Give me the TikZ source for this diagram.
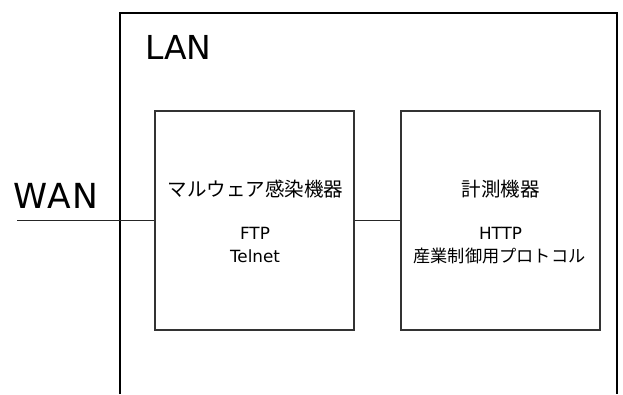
\documentclass[tikz,border=0pt]{standalone}
\usepackage{fontspec}
\setmainfont{DejaVu Sans}
\newfontfamily\cjk{Noto Sans CJK JP}
\begin{document}
\begin{tikzpicture}[x=1pt,y=-1pt,
  devbox/.style={draw=black!80,line width=1.3pt,minimum width=199pt,minimum height=219pt,inner sep=0pt},
  lanline/.style={draw=black,line width=2pt},
  wire/.style={draw=black!85,line width=0.9pt},
  big/.style={font=\fontsize{33}{36}\selectfont,inner sep=0pt,anchor=base west},
  ttl/.style={font=\cjk\fontsize{19.5}{22}\selectfont,inner sep=0pt},
  body/.style={font=\fontsize{16.8}{18}\selectfont,inner sep=0pt},
  bodyj/.style={font=\cjk\fontsize{17.2}{19}\selectfont,inner sep=0pt}]
\useasboundingbox (0,0) rectangle (623,394);
\coordinate (lanbl) at (120,394);
\coordinate (lantl) at (120,12.5);
\coordinate (lantr) at (617,12.5);
\coordinate (lanbr) at (617,394);
\draw[lanline] (lanbl) -- (lantl) -- (lantr) -- (lanbr);
\node[big] (lan) at (145,59) {LAN};
\node[big,font=\fontsize{34.5}{36}\selectfont] (wan) at (13,208) {W\kern0.6pt A\kern0.6pt N};
\node[devbox] (mal) at (254.5,220.5) {};
\node[devbox] (meas) at (500.5,220.5) {};
\coordinate (wanend) at (17,220.5);
\draw[wire] (wanend) -- (mal.west);
\draw[wire] (mal.east) -- (meas.west);
\node[ttl] (malt) at (255.5,189) {マルウェア感染機器};
\node[body] (ftp) at (255,233) {FTP};
\node[body] (tel) at (255,256) {Telnet};
\node[ttl] (meast) at (500.5,189) {計測機器};
\node[body] (http) at (500.5,233) {HTTP};
\node[bodyj] (proto) at (499.5,256) {産業制御用プロトコル};
\end{tikzpicture}
\end{document}
